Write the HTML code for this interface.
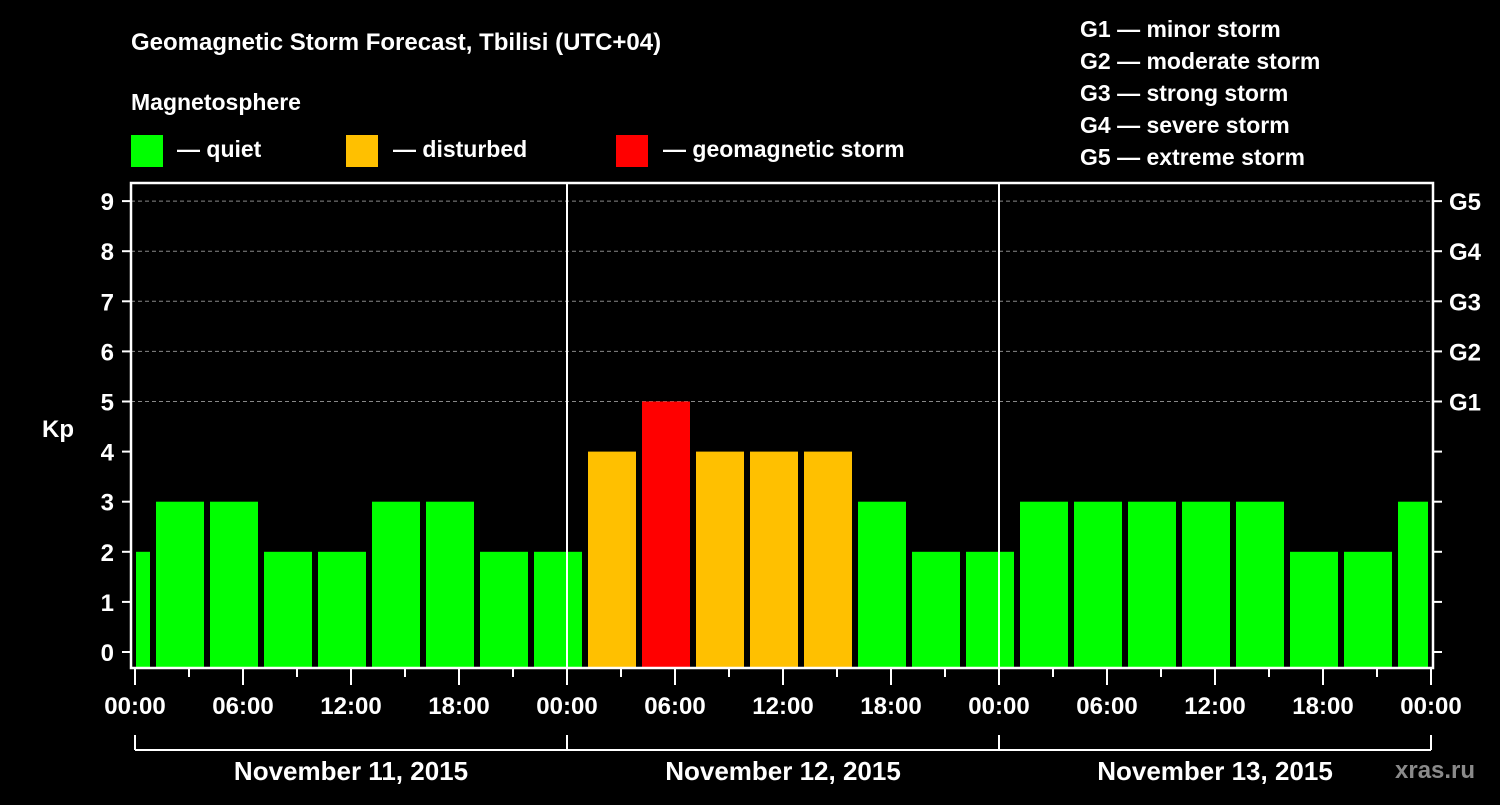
<!DOCTYPE html>
<html><head><meta charset="utf-8"><style>
body{margin:0;background:#000;width:1500px;height:800px;overflow:hidden}
svg text{font-family:"Liberation Sans",sans-serif;font-weight:bold;fill:#fff}
</style></head><body>
<svg id="c" width="1500" height="800">
<text x="131" y="50" font-size="24">Geomagnetic Storm Forecast, Tbilisi (UTC+04)</text>
<text x="131" y="110" font-size="23">Magnetosphere</text>
<g><rect x="131" y="135" width="32" height="32" fill="#00ff00"/><text x="177" y="157" font-size="23">— quiet</text></g>
<g><rect x="346" y="135" width="32" height="32" fill="#ffc000"/><text x="393" y="157" font-size="23">— disturbed</text></g>
<g><rect x="616" y="135" width="32" height="32" fill="#ff0000"/><text x="663" y="157" font-size="23">— geomagnetic storm</text></g>
<g font-size="23">
<text x="1080" y="37" font-size="23">G1 — minor storm</text>
<text x="1080" y="69" font-size="23">G2 — moderate storm</text>
<text x="1080" y="101" font-size="23">G3 — strong storm</text>
<text x="1080" y="133" font-size="23">G4 — severe storm</text>
<text x="1080" y="165" font-size="23">G5 — extreme storm</text>
</g>
<text x="42" y="437" font-size="24">Kp</text>
<text x="1395" y="778" font-size="24" fill="#888" style="fill:#8a8a8a">xras.ru</text>
<g id="grid"></g><g id="bars"></g><g id="axes"></g>
</svg>
<script>
const kpValues=[2,3,3,2,2,3,3,2,2,4,5,4,4,4,3,2,2,3,3,3,3,3,2,2,3];
const dayLabels=["November 11, 2015","November 12, 2015","November 13, 2015"];
const hourLabels=["00:00","06:00","12:00","18:00"];
const gLabels=["G1","G2","G3","G4","G5"];
const NS="http://www.w3.org/2000/svg";
const L=131,R=1433,T=183,B=668,X0=135,DAY=432;
const xh=h=>X0+h*DAY/24;
const yk=k=>652-k*50.1;
function mk(t,a,p){const e=document.createElementNS(NS,t);for(const k in a)e.setAttribute(k,a[k]);p.appendChild(e);return e;}
const grid=document.getElementById('grid'),bars=document.getElementById('bars'),axes=document.getElementById('axes');
for(let k=5;k<=9;k++){const g=mk('line',{x1:L,x2:R,y1:yk(k),y2:yk(k),stroke:'#888','stroke-dasharray':'4,3','stroke-width':1},grid);

}
kpValues.forEach((v,i)=>{
 const s=-2+3*i;let x1=xh(s)+3,x2=xh(s)+51;
 x1=Math.max(x1,136);x2=Math.min(x2,1428);
 const col=v>=5?'#ff0000':(v>=4?'#ffc000':'#00ff00');
 const r=mk('rect',{x:x1,y:yk(v),width:x2-x1,height:B-yk(v),fill:col},bars);
 
 
});
// day separators
for(let d=1;d<3;d++){const l=mk('line',{x1:X0+d*DAY,x2:X0+d*DAY,y1:T,y2:B,stroke:'#fff','stroke-width':2},axes);

}
const fr=mk('rect',{x:L,y:T,width:R-L,height:B-T,fill:'none',stroke:'#fff','stroke-width':2.5},axes);


for(let k=0;k<=9;k++){
 mk('line',{x1:122,x2:L,y1:yk(k),y2:yk(k),stroke:'#fff','stroke-width':2},axes);
 mk('line',{x1:R,x2:1442,y1:yk(k),y2:yk(k),stroke:'#fff','stroke-width':2},axes);
 const t=mk('text',{x:114,y:yk(k)+9,'font-size':24,'text-anchor':'end'},axes);t.textContent=k;
 
 
 if(k>=5){const g=mk('text',{x:1449,y:yk(k)+9,'font-size':24},axes);g.textContent=gLabels[k-5];
 
 }
}
for(let h=0;h<=72;h+=3){
 const major=h%6===0;
 mk('line',{x1:xh(h),x2:xh(h),y1:B,y2:major?685:677,stroke:'#fff','stroke-width':2},axes);
 if(major){const t=mk('text',{x:xh(h),y:714,'font-size':24,'text-anchor':'middle'},axes);t.textContent=hourLabels[(h/6)%4];
 
 }
}
mk('line',{x1:X0,x2:X0+3*DAY,y1:750,y2:750,stroke:'#fff','stroke-width':2},axes);
for(let d=0;d<=3;d++)mk('line',{x1:X0+d*DAY,x2:X0+d*DAY,y1:735,y2:750,stroke:'#fff','stroke-width':2},axes);
dayLabels.forEach((s,d)=>{const t=mk('text',{x:X0+d*DAY+DAY/2,y:780,'font-size':26,'text-anchor':'middle'},axes);t.textContent=s;

});
</script>
</body></html>
